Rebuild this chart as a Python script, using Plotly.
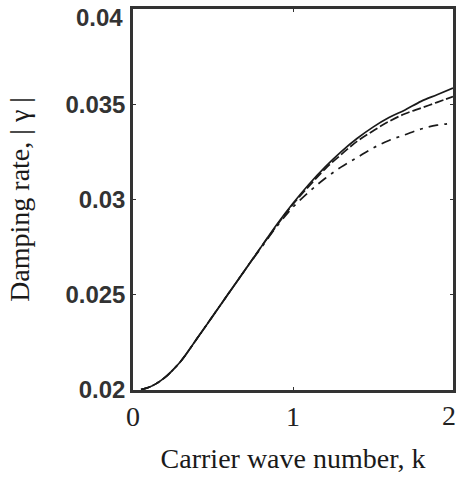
import plotly.graph_objects as go

k_solid = [0.05, 0.1, 0.15, 0.2, 0.25, 0.3, 0.4, 0.5, 0.6, 0.7, 0.8, 0.9, 1.0, 1.1, 1.2, 1.3, 1.4, 1.5, 1.6, 1.7, 1.8, 1.9, 2.0]
gamma_solid = [0.02002, 0.02014, 0.02036, 0.02066, 0.02106, 0.02152, 0.0227, 0.0239, 0.0251, 0.0263, 0.0275,
               0.0287, 0.0298, 0.0308, 0.0317, 0.0325, 0.0332, 0.0338, 0.0343, 0.0347, 0.03515, 0.0355, 0.03585]

k_dash = [0.05, 0.1, 0.15, 0.2, 0.25, 0.3, 0.4, 0.5, 0.6, 0.7, 0.8, 0.9, 1.0, 1.1, 1.2, 1.3, 1.4, 1.5, 1.6, 1.7, 1.8, 1.9, 2.0]
gamma_dash = [0.02002, 0.02014, 0.02036, 0.02066, 0.02106, 0.02152, 0.0227, 0.0239, 0.0251, 0.0263, 0.0275,
              0.02865, 0.02975, 0.0307, 0.0316, 0.03235, 0.03305, 0.0336, 0.0341, 0.0345, 0.0348, 0.0351, 0.0354]

k_dashdot = [0.05, 0.1, 0.15, 0.2, 0.25, 0.3, 0.4, 0.5, 0.6, 0.7, 0.8, 0.9, 1.0, 1.1, 1.2, 1.3, 1.4, 1.5, 1.6, 1.7, 1.8, 1.9, 2.0]
gamma_dashdot = [0.02002, 0.02014, 0.02036, 0.02066, 0.02106, 0.02152, 0.0227, 0.0239, 0.0251, 0.0263, 0.02745,
                 0.0286, 0.0296, 0.0304, 0.0311, 0.0317, 0.0322, 0.0327, 0.0331, 0.0334, 0.0337, 0.0339, 0.0340]

x_tickvals = [0, 1, 2]
x_ticktext = ["0", "1", "2"]
y_tickvals = [0.02, 0.025, 0.03, 0.035, 0.04]
y_ticktext = ["0.02", "0.025", "0.03", "0.035", "0.04"]

line_col = "#1a1a1a"
fig = go.Figure()
fig.add_trace(go.Scatter(x=k_dashdot, y=gamma_dashdot, mode="lines",
                         line=dict(color=line_col, width=1.7, dash="10px,6px,3px,6px", shape="spline")))
fig.add_trace(go.Scatter(x=k_dash, y=gamma_dash, mode="lines",
                         line=dict(color=line_col, width=1.7, dash="9px,3px", shape="spline")))
fig.add_trace(go.Scatter(x=k_solid, y=gamma_solid, mode="lines",
                         line=dict(color=line_col, width=1.7, shape="spline")))

y_tick_font = dict(family="Liberation Sans", size=24, color="#333333", weight="bold")
x_tick_font = dict(family="Liberation Serif", size=28, color="#222222")
title_font = dict(family="Liberation Serif", size=28, color="#1a1a1a")

# the labels at the far ends are drawn as annotations, nudged inside the page
fig.add_annotation(x=0, xref="paper", y=y_tickvals[-1], yref="y", text=y_ticktext[-1],
                   showarrow=False, xanchor="right", yanchor="middle", xshift=-8, yshift=-8,
                   font=y_tick_font)
fig.add_annotation(x=1, xref="paper", y=0, yref="paper", text=x_ticktext[-1],
                   showarrow=False, xanchor="right", yanchor="top", xshift=5, yshift=-8,
                   font=x_tick_font)

fig.update_layout(
    width=458, height=481,
    margin=dict(l=133, r=5, t=9, b=91),
    paper_bgcolor="white", plot_bgcolor="white",
    showlegend=False,
    xaxis=dict(range=[0, 2], tickvals=x_tickvals[:-1], ticktext=x_ticktext[:-1], automargin=False,
               showgrid=False, zeroline=False, showline=True, linewidth=2.5,
               linecolor="#333333", mirror="ticks", ticks="inside", ticklen=3,
               tickcolor="#333333", tickfont=x_tick_font,
               title=dict(text="Carrier wave number, k", font=title_font, standoff=18)),
    yaxis=dict(range=[0.02, 0.04], tickvals=y_tickvals[:-1], ticktext=y_ticktext[:-1], automargin=False,
               showgrid=False, zeroline=False, showline=True, linewidth=2.5,
               linecolor="#333333", mirror="ticks", ticks="inside", ticklen=3,
               tickcolor="#333333", tickfont=y_tick_font,
               title=dict(text="Damping rate, | γ |", font=title_font, standoff=28)),
)

fig.write_html("out.html")
